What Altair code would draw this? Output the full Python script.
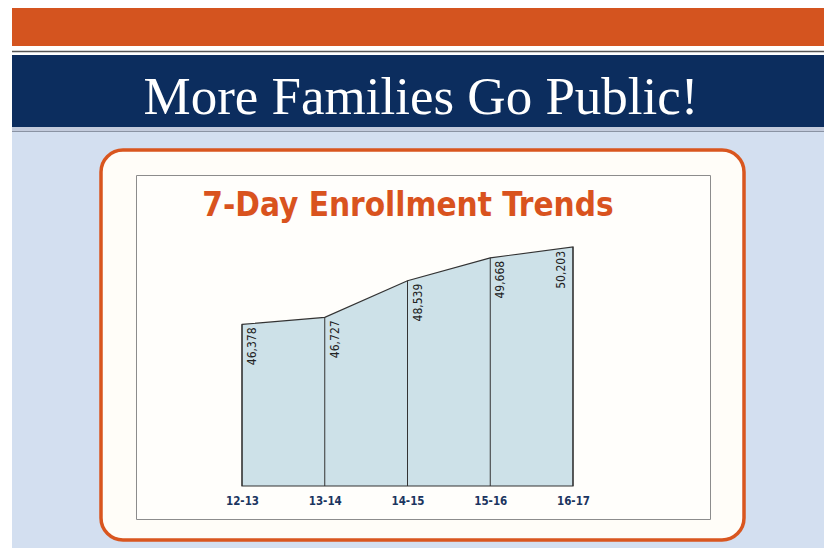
import altair as alt
import pandas as pd

# ---- data ----
years = ["12-13", "13-14", "14-15", "15-16", "16-17"]
enrollment = [46378, 46727, 48539, 49668, 50203]

HEADER = "More Families Go Public!"
TITLE = "7-Day Enrollment Trends"

BASE = 38400          # visual baseline of the area
TOP = 50203

df = pd.DataFrame({"year": years, "value": enrollment})

NARROW = "Liberation Sans Narrow, Arial Narrow, DejaVu Sans Condensed, sans-serif"

one = alt.Data(values=[{"k": 1}])

def rect(x, x2, y, y2, **kw):
    return alt.Chart(one).mark_rect(**kw).encode(
        x=alt.value(x), x2=alt.value(x2), y=alt.value(y), y2=alt.value(y2))

def hrule(x, x2, y, color, w):
    return alt.Chart(one).mark_rule(color=color, strokeWidth=w).encode(
        x=alt.value(x), x2=alt.value(x2), y=alt.value(y))

# page backdrop (coordinates relative to plot area)
bg = rect(-230, 600, -116, 320, color="#d3dff0")
orange_band = rect(-230, 600, -245, -201, color="#d4541f")
gray_line = hrule(-230, 600, -195.5, "#555555", 1.5)
navy_band = rect(-230, 600, -192, -120, color="#0c2d5e")
light_strip = rect(-230, 600, -120, -116, color="#c3cbdc")
gray_line2 = hrule(-230, 600, -115.5, "#8a93a3", 1)

box = rect(-141, 502, -97, 293, fill="#fffdf8", stroke="#d9561f",
           strokeWidth=3.5, cornerRadius=22)
frame = rect(-105.5, 468.5, -71.5, 272.5, fill="#fffefb", stroke="#8c8c8c",
             strokeWidth=1)

header = alt.Chart(one).mark_text(
    text=HEADER, font="Liberation Serif, Times New Roman, serif", fontSize=53,
    color="white", align="center", baseline="alphabetic"
).encode(x=alt.value(179), y=alt.value(-133))

title = alt.Chart(one).mark_text(
    text=TITLE, font=NARROW, fontSize=33, fontWeight="bold",
    color="#d9531e", align="center", baseline="alphabetic"
).encode(x=alt.value(166), y=alt.value(-31))

xenc = alt.X("year:N", sort=None,
             scale=alt.Scale(type="point", padding=0),
             axis=alt.Axis(title=None, domain=False, ticks=False, grid=False,
                           labelAngle=0, labelFont=NARROW, labelFontSize=11.5,
                           labelFontWeight="bold", labelColor="#1b3560",
                           labelPadding=9, zindex=1))
yscale = alt.Scale(domain=[BASE, TOP], zero=False, nice=False)

base = alt.Chart(df)

area = base.mark_area(interpolate="linear", fill="#cde1e8", stroke="#333333",
                      strokeWidth=1.2).encode(
    x=xenc,
    y=alt.Y("value:Q", scale=yscale, axis=None),
    y2=alt.datum(BASE),
)

rules = base.mark_rule(color="#333333", strokeWidth=1).encode(
    x=alt.X("year:N", sort=None),
    y=alt.Y("value:Q"),
    y2=alt.datum(BASE),
)

labels = base.transform_filter(alt.datum.year != years[-1]).mark_text(
    angle=270, align="right", baseline="top", dx=-3, dy=5,
    font=NARROW, fontSize=12, color="#222222"
).encode(
    x=alt.X("year:N", sort=None),
    y=alt.Y("value:Q"),
    text=alt.Text("value:Q", format=","),
)

last_label = base.transform_filter(alt.datum.year == years[-1]).mark_text(
    angle=270, align="right", baseline="bottom", dx=-4, dy=-5,
    font=NARROW, fontSize=12, color="#222222"
).encode(
    x=alt.X("year:N", sort=None),
    y=alt.Y("value:Q"),
    text=alt.Text("value:Q", format=","),
)

chart = alt.layer(
    bg, orange_band, gray_line, navy_band, light_strip, gray_line2,
    box, frame, header, title, area, rules, labels, last_label
).properties(
    width=331, height=239,
    autosize=alt.AutoSizeParams(type="none"),
    padding={"left": 234, "top": 239, "right": 251, "bottom": 62},
    background="white",
).configure_view(stroke=None)

chart.save("out.html", embed_options={"renderer": "svg", "actions": False})
